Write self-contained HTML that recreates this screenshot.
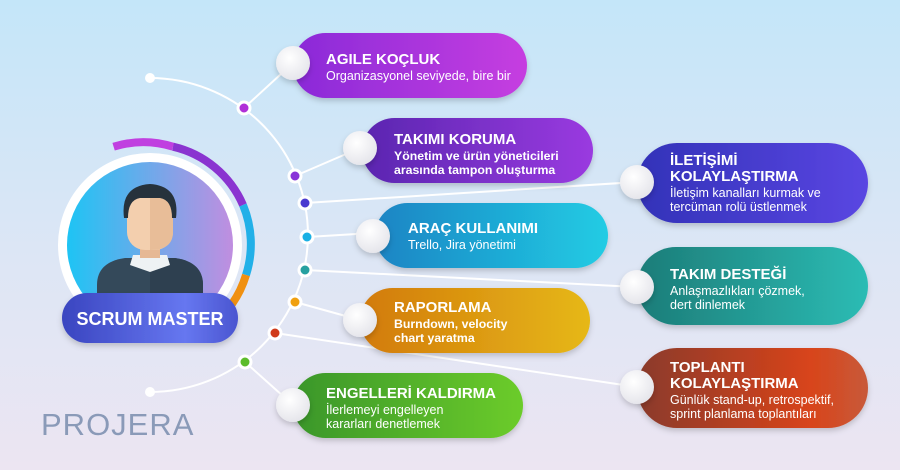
<!DOCTYPE html>
<html><head><meta charset="utf-8"><style>
html,body{margin:0;padding:0;width:900px;height:470px;overflow:hidden}
svg{display:block}
text{font-family:"Liberation Sans",sans-serif}
</style></head><body>
<svg width="900" height="470" viewBox="0 0 900 470" xmlns="http://www.w3.org/2000/svg">
<defs>
<linearGradient id="bg" x1="0" y1="0" x2="0" y2="1"><stop offset="0" stop-color="#c4e6f9"/><stop offset="0.55" stop-color="#dde6f5"/><stop offset="1" stop-color="#ece5f2"/></linearGradient>
<linearGradient id="av" x1="0" y1="0" x2="1" y2="0"><stop offset="0" stop-color="#1ec4f4"/><stop offset="1" stop-color="#c08ee0"/></linearGradient>
<linearGradient id="sm" x1="0" y1="0" x2="1" y2="0"><stop offset="0" stop-color="#3a45c0"/><stop offset="0.7" stop-color="#6677f0"/><stop offset="1" stop-color="#4a55d0"/></linearGradient>
<linearGradient id="g1" x1="0" x2="1"><stop offset="0" stop-color="#8a2ad8"/><stop offset="1" stop-color="#c63ee0"/></linearGradient>
<linearGradient id="g2" x1="0" x2="1"><stop offset="0" stop-color="#5a26b0"/><stop offset="1" stop-color="#9a3ae0"/></linearGradient>
<linearGradient id="g3" x1="0" x2="1"><stop offset="0" stop-color="#1a84c4"/><stop offset="1" stop-color="#22cce4"/></linearGradient>
<linearGradient id="g4" x1="0" x2="1"><stop offset="0" stop-color="#d27a0a"/><stop offset="1" stop-color="#e6b818"/></linearGradient>
<linearGradient id="g5" x1="0" x2="1"><stop offset="0" stop-color="#3a962c"/><stop offset="1" stop-color="#6ccc2a"/></linearGradient>
<linearGradient id="g6" x1="0" x2="1"><stop offset="0" stop-color="#3232b8"/><stop offset="1" stop-color="#5a46e2"/></linearGradient>
<linearGradient id="g7" x1="0" x2="1"><stop offset="0" stop-color="#1c7c78"/><stop offset="1" stop-color="#2cbcb4"/></linearGradient>
<linearGradient id="g8" x1="0" x2="1"><stop offset="0" stop-color="#8a3a2c"/><stop offset="0.75" stop-color="#d8441a"/><stop offset="1" stop-color="#c85a3a"/></linearGradient>
<radialGradient id="wc" cx="0.4" cy="0.35" r="0.7"><stop offset="0" stop-color="#ffffff"/><stop offset="1" stop-color="#e4e4ea"/></radialGradient>
<clipPath id="cc"><circle cx="150" cy="245" r="83"/></clipPath>
<filter id="sh" x="-10%" y="-20%" width="120%" height="150%"><feDropShadow dx="0" dy="3" stdDeviation="3" flood-color="#000" flood-opacity="0.18"/></filter>
</defs>
<rect width="900" height="470" fill="url(#bg)"/>

<path d="M150 78 A158 157 0 0 1 150 392" fill="none" stroke="#fff" stroke-width="2"/>
<g stroke="#fff" stroke-width="2">
<line x1="244" y1="108" x2="293" y2="63"/>
<line x1="295" y1="176" x2="360" y2="148"/>
<line x1="305" y1="203" x2="637" y2="182"/>
<line x1="307" y1="237" x2="373" y2="233"/>
<line x1="305" y1="270" x2="637" y2="287"/>
<line x1="295" y1="302" x2="360" y2="320"/>
<line x1="275" y1="333" x2="637" y2="387"/>
<line x1="245" y1="362" x2="293" y2="405"/>
</g>
<circle cx="150" cy="78" r="5" fill="#fff"/>
<circle cx="150" cy="392" r="5" fill="#fff"/>

<g filter="url(#sh)">
<rect x="293" y="33" width="234" height="65" rx="32.5" fill="url(#g1)"/>
<rect x="362" y="118" width="231" height="65" rx="32.5" fill="url(#g2)"/>
<rect x="375" y="203" width="233" height="65" rx="32.5" fill="url(#g3)"/>
<rect x="360" y="288" width="230" height="65" rx="32.5" fill="url(#g4)"/>
<rect x="293" y="373" width="230" height="65" rx="32.5" fill="url(#g5)"/>
<rect x="637" y="143" width="231" height="80" rx="40" fill="url(#g6)"/>
<rect x="637" y="247" width="231" height="78" rx="39" fill="url(#g7)"/>
<rect x="637" y="348" width="231" height="80" rx="40" fill="url(#g8)"/>
</g>
<g filter="url(#sh)" fill="url(#wc)">
<circle cx="293" cy="63" r="17"/>
<circle cx="360" cy="148" r="17"/>
<circle cx="373" cy="236" r="17"/>
<circle cx="360" cy="320" r="17"/>
<circle cx="293" cy="405" r="17"/>
<circle cx="637" cy="182" r="17"/>
<circle cx="637" cy="287" r="17"/>
<circle cx="637" cy="387" r="17"/>
</g>

<g stroke="#fff" stroke-width="3">
<circle cx="244" cy="108" r="6" fill="#b030d8"/>
<circle cx="295" cy="176" r="6" fill="#8a34d8"/>
<circle cx="305" cy="203" r="6" fill="#4a3ad0"/>
<circle cx="307" cy="237" r="6" fill="#1ab0e4"/>
<circle cx="305" cy="270" r="6" fill="#26a0a0"/>
<circle cx="295" cy="302" r="6" fill="#f0a010"/>
<circle cx="275" cy="333" r="6" fill="#d03a1a"/>
<circle cx="245" cy="362" r="6" fill="#5cbc2a"/>
</g>

<g fill="#fff" font-weight="bold">
<text x="326" y="64" font-size="15">AGILE KOÇLUK</text>
<text x="326" y="80" font-size="12.5" font-weight="normal">Organizasyonel seviyede, bire bir</text>
<text x="394" y="144" font-size="15">TAKIMI KORUMA</text>
<text x="394" y="160" font-size="12.3">Yönetim ve ürün yöneticileri</text>
<text x="394" y="174" font-size="12.3">arasında tampon oluşturma</text>
<text x="408" y="233" font-size="15">ARAÇ KULLANIMI</text>
<text x="408" y="249" font-size="12.5" font-weight="normal">Trello, Jira yönetimi</text>
<text x="394" y="312" font-size="15">RAPORLAMA</text>
<text x="394" y="328" font-size="12.3">Burndown, velocity</text>
<text x="394" y="342" font-size="12.3">chart yaratma</text>
<text x="326" y="398" font-size="15">ENGELLERİ KALDIRMA</text>
<text x="326" y="414" font-size="12.5" font-weight="normal">İlerlemeyi engelleyen</text>
<text x="326" y="428" font-size="12.5" font-weight="normal">kararları denetlemek</text>
<text x="670" y="165" font-size="15">İLETİŞİMİ</text>
<text x="670" y="181" font-size="15">KOLAYLAŞTIRMA</text>
<text x="670" y="197" font-size="12.5" font-weight="normal">İletişim kanalları kurmak ve</text>
<text x="670" y="211" font-size="12.5" font-weight="normal">tercüman rolü üstlenmek</text>
<text x="670" y="279" font-size="15">TAKIM DESTEĞİ</text>
<text x="670" y="295" font-size="12.5" font-weight="normal">Anlaşmazlıkları çözmek,</text>
<text x="670" y="309" font-size="12.5" font-weight="normal">dert dinlemek</text>
<text x="670" y="372" font-size="15">TOPLANTI</text>
<text x="670" y="388" font-size="15">KOLAYLAŞTIRMA</text>
<text x="670" y="404" font-size="12.5" font-weight="normal">Günlük stand-up, retrospektif,</text>
<text x="670" y="418" font-size="12.5" font-weight="normal">sprint planlama toplantıları</text>
</g>

<g fill="none" stroke-width="8">
<path d="M113.6 146.7 A101 101 0 0 1 173 146.7" stroke="#c040e0"/>
<path d="M173 146.7 A101 101 0 0 1 243 205" stroke="#8a34d0"/>
<path d="M243 205 A101 101 0 0 1 246 275" stroke="#22b0e8"/>
<path d="M246 275 A101 101 0 0 1 232 304" stroke="#f09010"/>
</g>
<circle cx="150" cy="245" r="92" fill="#fff"/>
<circle cx="150" cy="245" r="83" fill="url(#av)"/>
<g clip-path="url(#cc)">
<path d="M97 340 L97 285 Q97 262 125 258 L175 258 Q203 262 203 285 L203 340 Z" fill="#34495a"/>
<path d="M150 258 L175 258 Q203 262 203 285 L203 340 L150 340 Z" fill="#2e4050"/>
<path d="M133 255 L167 255 L170 265 L150 272 L130 265 Z" fill="#eef2f4"/>
<rect x="140" y="240" width="20" height="18" fill="#e6b894"/>
<rect x="127" y="195" width="46" height="55" rx="18" fill="#f3cfae"/>
<path d="M150 195 L173 195 L173 232 Q173 250 150 250 Z" fill="#e8bd98"/>
<path d="M124 218 Q120 186 150 184 Q180 186 176 218 L172 218 Q172 200 160 198 L140 198 Q128 200 128 218 Z" fill="#26323c"/>
</g>
<rect x="62" y="293" width="176" height="50" rx="25" fill="url(#sm)" filter="url(#sh)"/>
<text x="150" y="325" font-size="18" font-weight="bold" fill="#fff" text-anchor="middle">SCRUM MASTER</text>

<text x="41" y="435" font-size="31" fill="#8a9ab8" letter-spacing="1">PROJERA</text>
</svg>
</body></html>
